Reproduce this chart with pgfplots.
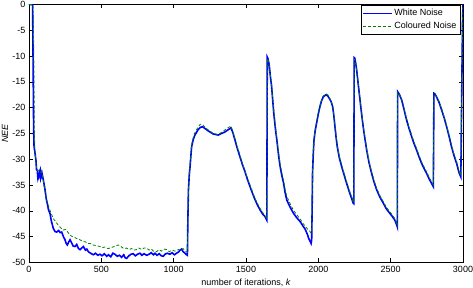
\documentclass[border=0pt]{standalone}
\usepackage{fontspec}
\setmainfont{Liberation Sans}
\usepackage{pgfplots}
\pgfplotsset{compat=1.18}
\definecolor{mblue}{rgb}{0,0,1}
\definecolor{mgreen}{rgb}{0,0.5,0}
\begin{document}
\begin{tikzpicture}
\begin{axis}[
  scale only axis,
  width=434pt, height=258pt,
  xmin=0, xmax=3000, ymin=-50, ymax=0,
  xtick={0,500,...,3000},
  ytick={-50,-45,...,0},
  tick align=inside,
  major tick length=4pt,
  axis line style={line width=0.8pt},
  every tick/.style={black, line width=0.6pt},
  /pgf/number format/assume math mode=true,
  /pgf/number format/1000 sep={},
  tick label style={font=\fontsize{9}{10}\selectfont},
  label style={font=\fontsize{9}{10}\selectfont},
  xlabel={number of iterations, \textit{k}},
  ylabel={\textit{NEE}},
  xlabel style={at={(axis description cs:0.5,-0.0795)}, anchor=center},
  ylabel style={at={(axis description cs:-0.0553,0.5)}, anchor=center},
  legend style={at={(0.9935,0.9975)}, anchor=north east, draw=black, line width=0.5pt,
    font=\fontsize{9}{10}\selectfont, inner xsep=1.5pt, inner ysep=2pt, row sep=1pt},
  legend cell align=left,
  legend image code/.code={\draw[#1] (0cm,0cm) -- (1cm,0cm);},
]
\addplot[mblue, line width=1.6pt] coordinates {
(0,0) (25,0) (28,-10) (32,-24) (35,-27.5) (40,-28.5) (48,-30.2) (52,-32) (57,-32.1) (62,-33.8) (67,-33.4) (72,-32.6) (78,-33.5) (81,-32.4) (86,-33.2) (90,-32.7) (99,-34) (111,-35.9) (120,-37.8) (126,-38.5) (135,-39.8) (145,-40.5) (155,-42) (168,-43.4) (180,-44) (191,-44.1) (205,-43.8) (215,-44.2) (226,-44.1) (238,-45) (249,-45.6) (257,-46.3) (265,-46.6) (275,-46) (284,-45.6) (295,-46.2) (305,-46.8) (318,-46.9) (330,-46.5) (342,-47.3) (353,-47.5) (365,-47.2) (376,-46.9) (390,-47.6) (400,-47.4) (410,-47.9) (425,-48.2) (445,-48.5) (460,-48.2) (475,-48.6) (491,-48.4) (505,-48.7) (520,-48.3) (537,-48.8) (550,-48.5) (565,-48.9) (580,-48.2) (594,-48.4) (610,-48.8) (625,-48.6) (640,-49) (655,-48.5) (665,-49.1) (675,-49.2) (690,-48.7) (705,-48.4) (721,-48.3) (735,-48.7) (750,-48.4) (767,-48.2) (780,-48.6) (795,-48.3) (813,-48.6) (830,-48.4) (845,-48.1) (860,-48.5) (871,-48.2) (885,-48.6) (900,-48.3) (915,-48.7) (928,-48.8) (940,-48.4) (955,-48.2) (974,-48.4) (990,-48.1) (1005,-48.5) (1020,-48.2) (1032,-48.0) (1045,-47.6) (1055,-47.4) (1065,-47.9) (1075,-48.1) (1085,-48.4) (1095,-48.6) (1098,-42) (1102,-36) (1108,-33) (1113,-31.5) (1124,-27.6) (1135,-26.2) (1147,-25.3) (1170,-24.2) (1185,-23.8) (1200,-23.7) (1220,-24.1) (1239,-24.5) (1274,-25.1) (1308,-25.3) (1330,-25.0) (1355,-24.7) (1380,-24.2) (1396,-23.9) (1410,-24.9) (1424,-26.3) (1440,-27.9) (1458,-29.5) (1475,-31.0) (1493,-32.4) (1510,-33.9) (1528,-35.3) (1545,-36.6) (1562,-37.8) (1580,-38.9) (1597,-39.8) (1615,-40.6) (1631,-41.1) (1644,-41.8) (1647,-10.2) (1652,-10.5) (1660,-11.6) (1668,-13.8) (1677,-15.9) (1692,-21.1) (1705,-24.5) (1713,-26.2) (1725,-29.2) (1736,-31.4) (1748,-33.2) (1759,-34.5) (1770,-36.4) (1782,-37.9) (1800,-39.0) (1815,-39.8) (1829,-40.5) (1850,-41.3) (1875,-42.1) (1893,-42.9) (1910,-43.6) (1925,-44.6) (1933,-45.3) (1945,-46.0) (1950,-46.3) (1954,-45.6) (1957,-40) (1960,-32.7) (1965,-29) (1970,-26.3) (1978,-24.5) (1988,-23.0) (2000,-21.2) (2011,-19.8) (2022,-18.7) (2034,-17.9) (2053,-17.5) (2065,-17.7) (2076,-18.2) (2088,-18.8) (2099,-19.8) (2107,-21.5) (2115,-23.7) (2123,-25.8) (2131,-27.6) (2145,-29.7) (2161,-31.4) (2180,-33.2) (2196,-34.7) (2213,-36.2) (2230,-37.6) (2241,-38.5) (2245,-38.6) (2248,-10.3) (2252,-10.4) (2258,-11.3) (2265,-12.7) (2276,-15.5) (2288,-18.5) (2299,-21.2) (2310,-23.7) (2322,-26.0) (2334,-28.2) (2350,-30.6) (2368,-32.7) (2385,-34.4) (2403,-35.9) (2425,-37.3) (2449,-38.5) (2470,-39.6) (2495,-40.5) (2512,-41.1) (2529,-41.8) (2540,-42.6) (2546,-43.1) (2548,-16.9) (2560,-17.4) (2576,-18.5) (2593,-20.4) (2610,-22.4) (2628,-24.1) (2645,-25.6) (2662,-27.0) (2679,-28.2) (2697,-29.6) (2714,-30.8) (2731,-31.8) (2748,-32.7) (2766,-33.8) (2783,-34.7) (2795,-35.3) (2799,-17.2) (2805,-17.3) (2817,-17.9) (2835,-19.0) (2852,-20.4) (2870,-22.0) (2887,-23.7) (2905,-25.7) (2921,-27.6) (2938,-29.3) (2956,-30.8) (2966,-31.9) (2974,-32.7) (2985,-33.4) (2992,-15) (2997,-3) (3000,0)
};
\addlegendentry{White Noise}
\addplot[mgreen, line width=0.8pt, dash pattern=on 3pt off 2pt] coordinates {
(0,0) (28,0) (31,-5) (34,-12) (37,-24) (40,-28) (48,-30.5) (55,-32) (62,-32.3) (70,-32.1) (78,-32.5) (86,-32.4) (95,-33.4) (105,-35.2) (114,-36.8) (122,-37.9) (133,-38.9) (145,-39.9) (155,-40.6) (168,-41.5) (185,-42.1) (203,-42.8) (220,-43.3) (237,-43.7) (255,-43.6) (270,-44.2) (284,-44.7) (300,-45.0) (320,-45.2) (340,-45.5) (353,-45.6) (370,-45.9) (390,-46.0) (405,-46.3) (422,-46.3) (440,-46.6) (460,-46.7) (475,-46.8) (491,-46.9) (510,-47.1) (525,-47.0) (545,-47.3) (560,-47.2) (580,-47.0) (600,-46.8) (617,-46.6) (635,-46.9) (655,-47.3) (675,-47.2) (690,-47.5) (710,-47.3) (725,-47.6) (744,-47.5) (760,-47.2) (780,-47.5) (795,-47.2) (813,-47.2) (830,-47.6) (845,-47.4) (860,-47.8) (882,-47.9) (900,-47.5) (915,-47.8) (935,-47.4) (951,-47.5) (970,-47.9) (990,-47.6) (1010,-47.8) (1032,-47.5) (1050,-47.6) (1065,-47.3) (1080,-47.8) (1095,-48.0) (1098,-42) (1102,-36) (1108,-32.8) (1113,-31.0) (1124,-27.2) (1135,-25.8) (1147,-24.8) (1170,-23.7) (1185,-23.2) (1200,-23.3) (1220,-23.9) (1239,-24.3) (1274,-25.0) (1308,-25.2) (1330,-24.8) (1355,-24.3) (1380,-23.8) (1396,-23.6) (1410,-24.7) (1424,-26.0) (1440,-27.6) (1458,-29.2) (1475,-30.8) (1493,-32.2) (1510,-33.7) (1528,-35.0) (1545,-36.3) (1562,-37.6) (1580,-38.6) (1597,-39.5) (1615,-40.3) (1631,-40.9) (1644,-41.6) (1647,-10.5) (1652,-10.7) (1660,-11.8) (1668,-13.6) (1677,-15.5) (1692,-20.6) (1705,-24.0) (1713,-25.8) (1725,-28.7) (1736,-30.9) (1748,-32.7) (1759,-34.0) (1770,-35.8) (1782,-37.2) (1800,-38.3) (1815,-39.2) (1829,-39.9) (1850,-40.7) (1875,-41.6) (1893,-42.4) (1910,-43.0) (1925,-43.5) (1940,-43.9) (1950,-44.3) (1954,-43.8) (1957,-38) (1960,-32.0) (1965,-28.5) (1970,-26.0) (1978,-24.2) (1988,-22.7) (2000,-20.9) (2011,-19.6) (2022,-18.5) (2034,-17.7) (2053,-17.3) (2065,-17.5) (2076,-18.0) (2088,-18.7) (2099,-19.6) (2107,-21.3) (2115,-23.5) (2123,-25.5) (2131,-27.3) (2145,-29.4) (2161,-31.1) (2180,-32.9) (2196,-34.4) (2213,-35.9) (2230,-37.3) (2241,-38.2) (2245,-38.3) (2248,-10.6) (2252,-10.7) (2258,-11.5) (2265,-12.9) (2276,-15.3) (2288,-18.2) (2299,-20.9) (2310,-23.4) (2322,-25.7) (2334,-27.9) (2350,-30.3) (2368,-32.4) (2385,-34.1) (2403,-35.6) (2425,-37.0) (2449,-38.2) (2470,-39.3) (2495,-40.2) (2512,-40.8) (2529,-41.5) (2540,-42.3) (2546,-42.8) (2548,-17.1) (2560,-17.5) (2576,-18.4) (2593,-20.2) (2610,-22.1) (2628,-23.8) (2645,-25.3) (2662,-26.7) (2679,-27.9) (2697,-29.3) (2714,-30.5) (2731,-31.5) (2748,-32.4) (2766,-33.5) (2783,-34.4) (2795,-35.0) (2799,-17.4) (2805,-17.4) (2817,-17.8) (2835,-18.8) (2852,-20.2) (2870,-21.8) (2887,-23.5) (2905,-25.4) (2921,-27.3) (2938,-29.0) (2956,-30.5) (2966,-31.6) (2974,-32.4) (2985,-33.1) (2992,-15) (2997,-3) (3000,0)
};
\addlegendentry{Coloured Noise}
\end{axis}
\pgfresetboundingbox
\path (-29pt,-25.5pt) rectangle (444pt,262.5pt);
\end{tikzpicture}
\end{document}
